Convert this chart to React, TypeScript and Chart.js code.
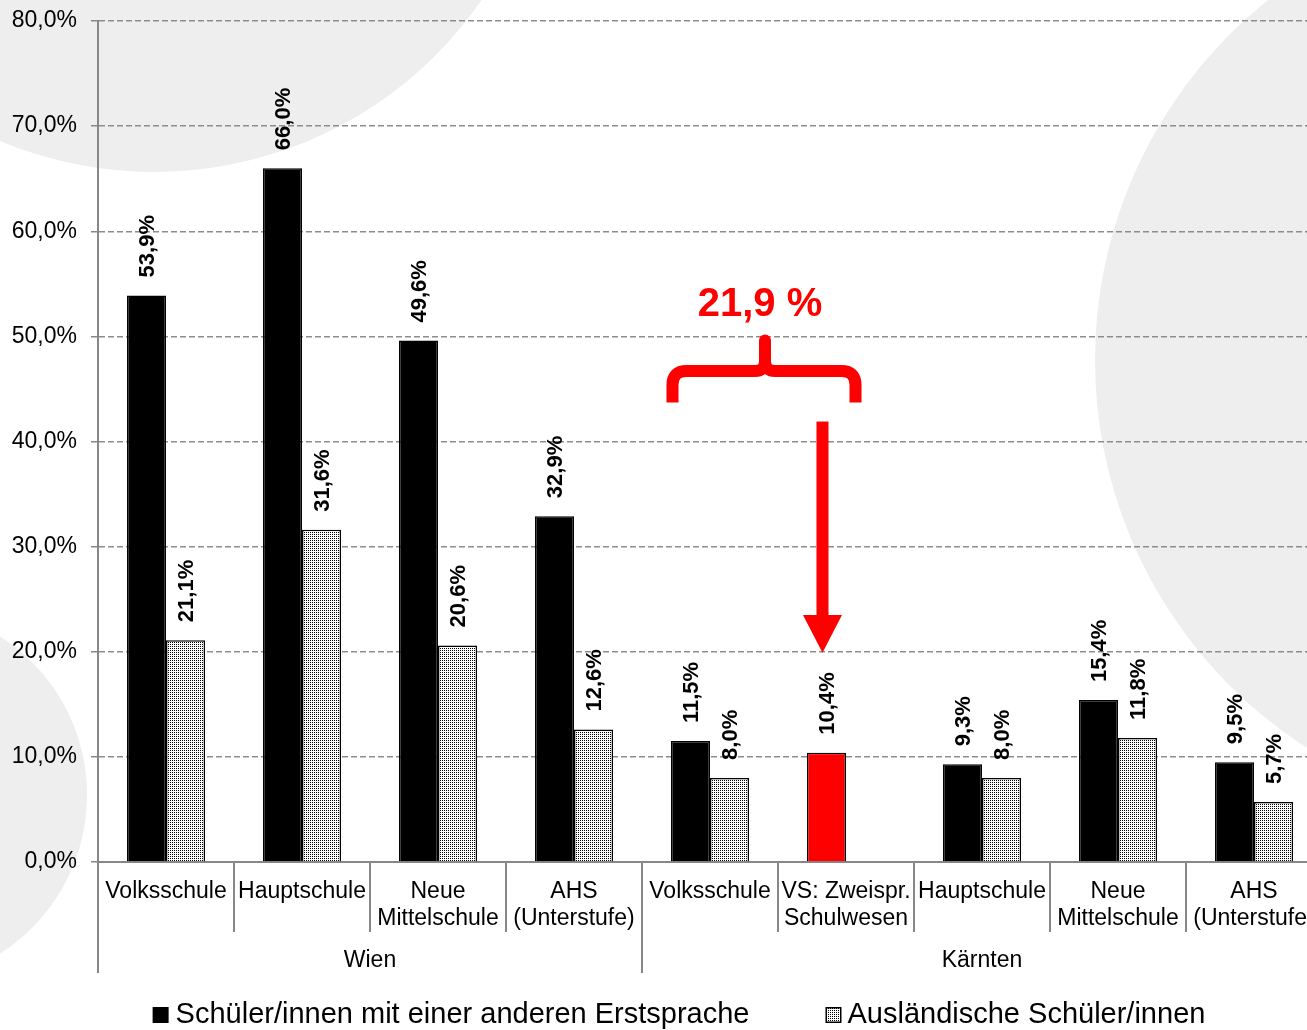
import { useEffect, useRef } from "react";
import { Chart, registerables } from "chart.js";

Chart.register(...registerables);

// School types, one entry per category (multi-line labels)
const categoryLines: string[][] = [
  ["Volksschule"],
  ["Hauptschule"],
  ["Neue", "Mittelschule"],
  ["AHS", "(Unterstufe)"],
  ["Volksschule"],
  ["VS: Zweispr.", "Schulwesen"],
  ["Hauptschule"],
  ["Neue", "Mittelschule"],
  ["AHS", "(Unterstufe)"],
];

// Federal states and how many categories belong to each
const regionNames = ["Wien", "Kärnten"];
const regionSizes = [4, 5];

const seriesNames = [
  "Schüler/innen mit einer anderen Erstsprache",
  "Ausländische Schüler/innen",
];

// Shares in percent
const erstspracheValues: number[] = [53.9, 66.0, 49.6, 32.9, 11.5, 10.4, 9.3, 15.4, 9.5];
const auslaenderValues: (number | null)[] = [21.1, 31.6, 20.6, 12.6, 8.0, null, 8.0, 11.8, 5.7];

// Bilingual school system (highlighted) and the regular Volksschule it adds up with
const highlightIndex = 5;
const combinedIndices = [4, 5];

const yMin = 0;
const yMax = 80;
const yStep = 10;

const FONT = '"Liberation Sans", Arial, Helvetica, sans-serif';
const AXIS_GRAY = "#878787";
const GRID_GRAY = "#8d8d8d";
const RED = "#ff0000";

const fmtPct = (v: number) => v.toFixed(1).replace(".", ",") + "%";

function makeDotPattern(ctx: CanvasRenderingContext2D): CanvasPattern | string {
  const tile = document.createElement("canvas");
  tile.width = 2;
  tile.height = 2;
  const g = tile.getContext("2d");
  if (!g) return "#c8c8c8";
  g.fillStyle = "#ffffff";
  g.fillRect(0, 0, 2, 2);
  g.fillStyle = "#000000";
  g.fillRect(0, 0, 1, 1);
  return ctx.createPattern(tile, "repeat") || "#c8c8c8";
}

export default function App() {
  const canvasRef = useRef<HTMLCanvasElement | null>(null);

  useEffect(() => {
    const canvas = canvasRef.current;
    if (!canvas) return;
    const ctx0 = canvas.getContext("2d");
    if (!ctx0) return;
    const dots = makeDotPattern(ctx0);

    // Soft decorative discs behind the plot
    const backdrop = {
      id: "backdrop",
      beforeDraw(chart: any) {
        const ctx = chart.ctx as CanvasRenderingContext2D;
        ctx.save();
        ctx.fillStyle = "#ffffff";
        ctx.fillRect(0, 0, chart.width, chart.height);
        ctx.fillStyle = "#eeeeee";
        const discs = [
          [154, -226, 398],
          [1556, 360, 461],
          [-101, 795, 188],
        ];
        for (const [cx, cy, r] of discs) {
          ctx.beginPath();
          ctx.arc(cx, cy, r, 0, Math.PI * 2);
          ctx.fill();
        }
        ctx.restore();
      },
    };

    const overlay = {
      id: "overlay",
      afterDraw(chart: any) {
        const ctx = chart.ctx as CanvasRenderingContext2D;
        const xs = chart.scales.x;
        const ys = chart.scales.y;
        const area = chart.chartArea;
        const n = categoryLines.length;
        const step = xs.getPixelForValue(1) - xs.getPixelForValue(0);

        ctx.save();

        // value labels above the bars, rotated
        ctx.fillStyle = "#000";
        ctx.font = `bold 22px ${FONT}`;
        ctx.textAlign = "left";
        ctx.textBaseline = "middle";
        chart.data.datasets.forEach((ds: any, d: number) => {
          const meta = chart.getDatasetMeta(d);
          meta.data.forEach((el: any, i: number) => {
            const v = ds.data[i];
            if (v === null || v === undefined) return;
            ctx.save();
            ctx.translate(el.x + 1, el.y - 18);
            ctx.rotate(-Math.PI / 2);
            ctx.fillText(fmtPct(v), 0, 0);
            ctx.restore();
          });
        });

        // category separators and region separators below the axis
        const bottom = area.bottom;
        ctx.strokeStyle = AXIS_GRAY;
        ctx.lineWidth = 2;
        const regionStarts = new Set<number>();
        let acc = 0;
        regionSizes.forEach((s) => {
          regionStarts.add(acc);
          acc += s;
        });
        regionStarts.add(acc);
        for (let i = 0; i <= n; i++) {
          const x = i === 0 ? area.left : i === n ? area.right : xs.getPixelForValue(i) - step / 2;
          const long = regionStarts.has(i);
          ctx.beginPath();
          ctx.moveTo(x, bottom);
          ctx.lineTo(x, long ? bottom + 111 : bottom + 70);
          ctx.stroke();
        }

        // category labels
        ctx.fillStyle = "#000";
        ctx.font = `23px ${FONT}`;
        ctx.textAlign = "center";
        ctx.textBaseline = "alphabetic";
        categoryLines.forEach((lines, i) => {
          const x = xs.getPixelForValue(i);
          lines.forEach((t, k) => ctx.fillText(t, x, bottom + 36 + k * 27));
        });

        // region labels
        acc = 0;
        regionNames.forEach((name, r) => {
          const first = acc;
          const last = acc + regionSizes[r] - 1;
          const x0 = first === 0 ? area.left : xs.getPixelForValue(first) - step / 2;
          const x1 = last === n - 1 ? area.right : xs.getPixelForValue(last) + step / 2;
          ctx.fillText(name, (x0 + x1) / 2, bottom + 105);
          acc += regionSizes[r];
        });

        // legend
        ctx.font = `29px ${FONT}`;
        ctx.textAlign = "left";
        const w1 = ctx.measureText(seriesNames[0]).width;
        const w2 = ctx.measureText(seriesNames[1]).width;
        const box = 16;
        const total = box + 7 + w1 + 76 + box + 6 + w2;
        let lx = 679 - total / 2;
        const ly = 1015;
        ctx.fillStyle = "#000";
        ctx.fillRect(lx, ly - 8, box, box);
        lx += box + 7;
        ctx.fillText(seriesNames[0], lx, ly + 8);
        lx += w1 + 76;
        ctx.fillStyle = dots as any;
        ctx.fillRect(lx, ly - 8, box, box);
        ctx.strokeStyle = "#000";
        ctx.lineWidth = 1.5;
        ctx.strokeRect(lx + 0.75, ly - 7.25, box - 1.5, box - 1.5);
        lx += box + 6;
        ctx.fillStyle = "#000";
        ctx.fillText(seriesNames[1], lx, ly + 8);

        // combined share of both Volksschule types: brace, label, arrow
        const cA = xs.getPixelForValue(combinedIndices[0]);
        const cB = xs.getPixelForValue(combinedIndices[1]);
        const L = cA - 37.5;
        const R = cB + 9.5;
        const C = cA + 55;
        const yLeg = ys.getPixelForValue(43.7);
        const yBand = ys.getPixelForValue(46.7);
        const yTop = ys.getPixelForValue(49.6);
        ctx.strokeStyle = RED;
        ctx.lineWidth = 12;
        ctx.lineJoin = "round";
        ctx.lineCap = "butt";
        ctx.beginPath();
        ctx.moveTo(L, yLeg);
        ctx.lineTo(L, yBand + 14);
        ctx.quadraticCurveTo(L, yBand, L + 14, yBand);
        ctx.lineTo(C - 10, yBand);
        ctx.quadraticCurveTo(C, yBand, C, yBand - 10);
        ctx.lineTo(C, yTop);
        ctx.stroke();
        ctx.beginPath();
        ctx.moveTo(C, yTop);
        ctx.lineTo(C, yBand - 10);
        ctx.quadraticCurveTo(C, yBand, C + 10, yBand);
        ctx.lineTo(R - 14, yBand);
        ctx.quadraticCurveTo(R, yBand, R, yBand + 14);
        ctx.lineTo(R, yLeg);
        ctx.stroke();
        ctx.fillStyle = RED;
        ctx.beginPath();
        ctx.arc(C, yTop, 6, 0, Math.PI * 2);
        ctx.fill();

        const sum = combinedIndices.reduce((s, i) => s + erstspracheValues[i], 0);
        ctx.font = `bold 40px ${FONT}`;
        ctx.textAlign = "center";
        ctx.textBaseline = "alphabetic";
        ctx.fillText(sum.toFixed(1).replace(".", ",") + " %", C - 5, ys.getPixelForValue(51.9));

        const redBar = chart.getDatasetMeta(0).data[highlightIndex];
        const ax = redBar.x - 4;
        const shaftTop = ys.getPixelForValue(41.9);
        const headTop = ys.getPixelForValue(23.5);
        const tip = ys.getPixelForValue(19.9);
        ctx.fillRect(ax - 6, shaftTop, 12, headTop - shaftTop + 1);
        ctx.beginPath();
        ctx.moveTo(ax - 19.5, headTop);
        ctx.lineTo(ax + 19.5, headTop);
        ctx.lineTo(ax, tip);
        ctx.closePath();
        ctx.fill();

        // left axis continues down through the label rows
        ctx.strokeStyle = AXIS_GRAY;
        ctx.lineWidth = 2;
        ctx.beginPath();
        ctx.moveTo(area.left, area.top);
        ctx.lineTo(area.left, bottom + 111);
        ctx.stroke();

        ctx.restore();
      },
    };

    const chart = new Chart(canvas, {
      type: "bar",
      data: {
        labels: categoryLines.map((l) => l.join(" ")),
        datasets: [
          {
            label: seriesNames[0],
            data: erstspracheValues,
            backgroundColor: erstspracheValues.map((_, i) => (i === highlightIndex ? RED : "#000000")),
            borderColor: "#000000",
            borderWidth: 1.5,
          },
          {
            label: seriesNames[1],
            data: auslaenderValues,
            backgroundColor: dots as any,
            borderColor: "#000000",
            borderWidth: 1.5,
          },
        ],
      },
      options: {
        responsive: false,
        animation: false,
        events: [],
        layout: { padding: { top: 21, right: 0, bottom: 0, left: 0 } },
        datasets: { bar: { categoryPercentage: 0.574, barPercentage: 1 } },
        plugins: {
          legend: { display: false },
          tooltip: { enabled: false },
          title: { display: false },
        },
        scales: {
          x: {
            grid: { display: false },
            ticks: { display: false },
            border: { display: true, color: AXIS_GRAY, width: 2 },
            afterFit: (s: any) => {
              s.height = 168;
              s.paddingLeft = 0;
              s.paddingRight = 0;
            },
          },
          y: {
            min: yMin,
            max: yMax,
            ticks: {
              stepSize: yStep,
              color: "#000",
              padding: 14,
              font: { family: FONT, size: 23 },
              callback: (v: any) => fmtPct(Number(v)),
            },
            grid: {
              color: GRID_GRAY,
              lineWidth: 1.5,
              tickLength: 7,
              tickColor: AXIS_GRAY,
              tickWidth: 1.5,
              tickBorderDash: [],
            },
            border: { display: true, color: AXIS_GRAY, width: 2, dash: [6, 3] },
            afterFit: (s: any) => {
              s.width = 98;
              s.paddingTop = 0;
              s.paddingBottom = 0;
            },
          },
        },
      } as any,
      plugins: [backdrop, overlay],
    });

    return () => chart.destroy();
  }, []);

  return (
    <div
      style={{
        position: "fixed",
        left: 0,
        top: 0,
        width: 1307,
        height: 1030,
        overflow: "hidden",
        background: "#fff",
      }}
    >
      <canvas ref={canvasRef} width={1322} height={1030} style={{ display: "block" }} />
    </div>
  );
}
